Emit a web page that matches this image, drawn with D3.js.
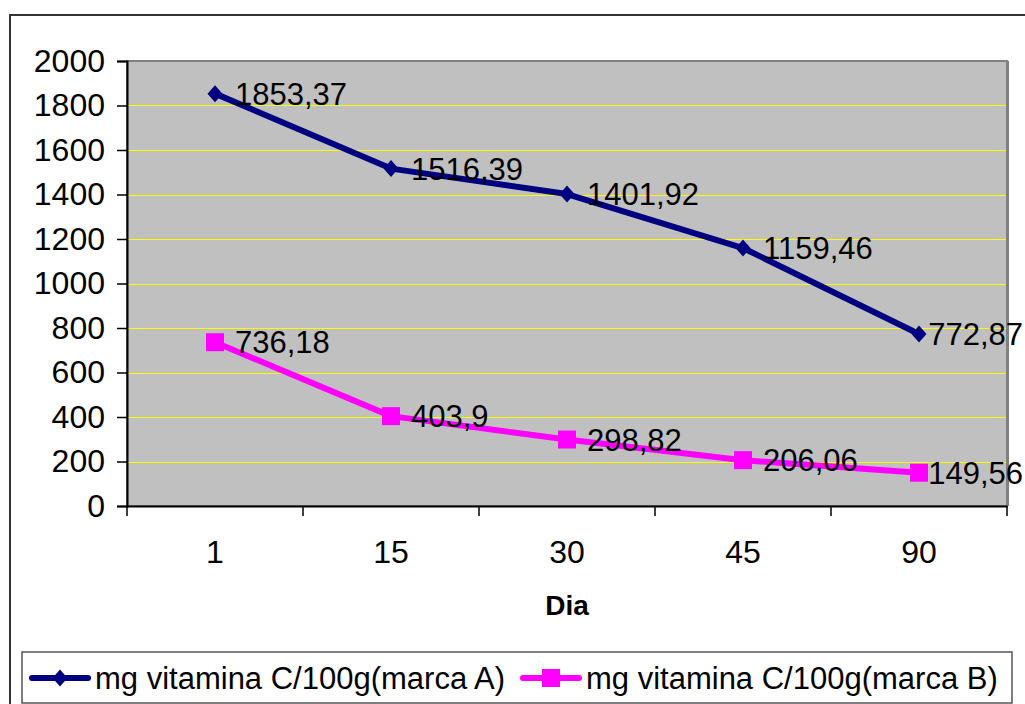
<!DOCTYPE html>
<html><head><meta charset="utf-8">
<script src="https://cdn.jsdelivr.net/npm/d3@7"></script>
<style>
html,body{margin:0;padding:0;background:#fff;}
svg text{font-family:"Liberation Sans",Arial,sans-serif;}
</style></head>
<body>
<svg id="c" width="1025" height="704"></svg>
<script>
const categories = ["1","15","30","45","90"];
const seriesA = [1853.37,1516.39,1401.92,1159.46,772.87];
const seriesB = [736.18,403.9,298.82,206.06,149.56];
const labelsA = ["1853,37","1516,39","1401,92","1159,46","772,87"];
const labelsB = ["736,18","403,9","298,82","206,06","149,56"];
const yTicks = [0,200,400,600,800,1000,1200,1400,1600,1800,2000];
const seriesNames = ["mg vitamina C/100g(marca A)","mg vitamina C/100g(marca B)"];
const xTitle = "Dia";

const svg = d3.select("#c");
const L=127,R=1007,T=61,B=506;
const x = d3.scaleBand().domain(categories).range([L,R]).padding(0);
const y = d3.scaleLinear().domain([0,2000]).range([B,T]);
const fs = 31, tfs = 32;

// custom diamond marker
const diamondType = {draw(ctx,size){const w=7.5,h=8.5;ctx.moveTo(0,-h);ctx.lineTo(w,0);ctx.lineTo(0,h);ctx.lineTo(-w,0);ctx.closePath();}};
const diamond = d3.symbol().type(diamondType);

// outer border
svg.append("path").attr("d","M10,704 L10,15 L1025,15").attr("fill","none").attr("stroke","#333").attr("stroke-width",2);

// plot area
svg.append("rect").attr("x",L).attr("y",T).attr("width",R-L).attr("height",B-T)
  .attr("fill","#C0C0C0").attr("stroke","#808080").attr("stroke-width",2);
svg.append("line").attr("x1",R+1).attr("x2",R+1).attr("y1",T).attr("y2",B).attr("stroke","#808080").attr("stroke-width",2);

// grid
svg.append("g").selectAll("line").data(yTicks.filter(d=>d>0&&d<2000)).join("line")
  .attr("x1",L+1).attr("x2",R-1).attr("y1",d=>Math.round(y(d))+0.5).attr("y2",d=>Math.round(y(d))+0.5)
  .attr("stroke","#FFFF00").attr("stroke-width",1.2);

// y axis
const ya = svg.append("g").attr("transform",`translate(${L},0)`)
  .call(d3.axisLeft(y).tickValues(yTicks).tickSize(10).tickPadding(12).tickFormat(d3.format("d")));
ya.select(".domain").attr("stroke","#000").attr("stroke-width",2);
ya.selectAll(".tick line").attr("stroke","#000").attr("stroke-width",1.5);
ya.selectAll(".tick text").attr("font-size",tfs).attr("fill","#000").attr("font-family","Liberation Sans, Arial, sans-serif");

// x axis
const xa = svg.append("g").attr("transform",`translate(0,${B})`)
  .call(d3.axisBottom(x).tickSize(0).tickPadding(34));
xa.select(".domain").attr("stroke","#000").attr("stroke-width",2);
xa.selectAll(".tick text").attr("font-size",tfs).attr("fill","#000").attr("font-family","Liberation Sans, Arial, sans-serif");
const bounds = categories.map(c=>x(c)).concat([R]);
svg.append("g").selectAll("line").data(bounds).join("line")
  .attr("x1",d=>d).attr("x2",d=>d).attr("y1",B).attr("y2",B+10).attr("stroke","#000").attr("stroke-width",1.5);

svg.append("text").attr("x",(L+R)/2).attr("y",615).attr("text-anchor","middle")
  .attr("font-size",28).attr("font-weight","bold").text(xTitle);

const cx = c=>x(c)+x.bandwidth()/2;
const line = d3.line().x((d,i)=>cx(categories[i])).y(d=>y(d));

svg.append("path").datum(seriesA).attr("d",line).attr("fill","none").attr("stroke","#000080").attr("stroke-width",6).attr("stroke-linejoin","round");
svg.append("path").datum(seriesB).attr("d",line).attr("fill","none").attr("stroke","#FF00FF").attr("stroke-width",6).attr("stroke-linejoin","round");

svg.append("g").selectAll("path").data(seriesA).join("path")
  .attr("transform",(d,i)=>`translate(${cx(categories[i])},${y(d)})`).attr("d",diamond).attr("fill","#000080");
svg.append("g").selectAll("rect").data(seriesB).join("rect")
  .attr("x",(d,i)=>cx(categories[i])-9).attr("y",d=>y(d)-9).attr("width",18).attr("height",18).attr("fill","#FF00FF");

// labels (shifted left if they would run off the chart)
function addLabels(vals, labs){
  svg.append("g").selectAll("text").data(vals).join("text")
    .attr("y",d=>y(d)).attr("dy","0.36em")
    .attr("font-size",fs).attr("fill","#000").text((d,i)=>labs[i])
    .each(function(d,i){
      const w=this.getComputedTextLength();
      const px=cx(categories[i]);
      const off=Math.min(20, 1023-w-px);
      d3.select(this).attr("x",px+Math.max(off,8));
    });
}
addLabels(seriesA,labelsA);
addLabels(seriesB,labelsB);

// legend
svg.append("rect").attr("x",22).attr("y",652).attr("width",990).attr("height",51)
  .attr("fill","#fff").attr("stroke","#555").attr("stroke-width",1.5);
const legY = 678;
const leg = [{x:32,c:"#000080",t:"d"},{x:523,c:"#FF00FF",t:"s"}];
leg.forEach((l,i)=>{
  svg.append("line").attr("x1",l.x).attr("x2",l.x+56).attr("y1",legY).attr("y2",legY).attr("stroke",l.c).attr("stroke-width",6).attr("stroke-linecap","round");
  if(l.t==="d") svg.append("path").attr("transform",`translate(${l.x+28},${legY})`).attr("d",diamond).attr("fill",l.c);
  else svg.append("rect").attr("x",l.x+19).attr("y",legY-9).attr("width",18).attr("height",18).attr("fill",l.c);
  svg.append("text").attr("x",l.x+63).attr("y",legY).attr("dy","0.36em").attr("font-size",fs).attr("fill","#000").text(seriesNames[i]);
});
</script>
</body></html>
